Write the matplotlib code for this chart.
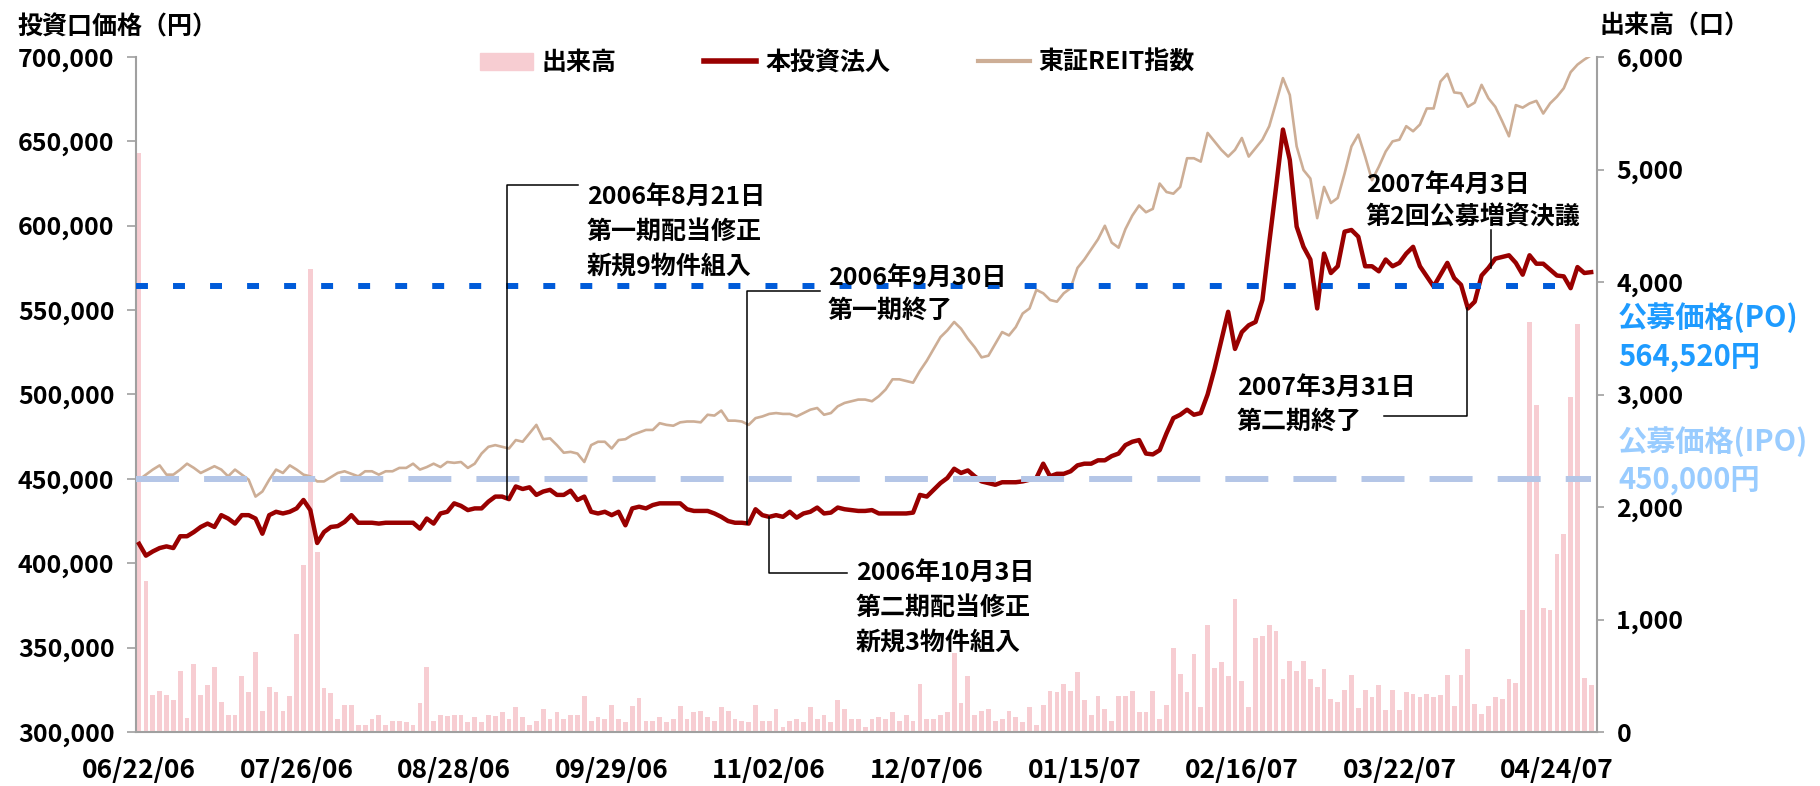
import numpy as np
import matplotlib.pyplot as plt
from matplotlib.patches import Patch
from matplotlib.lines import Line2D
from matplotlib.ticker import FuncFormatter

plt.rcParams['font.family'] = ['Noto Sans CJK JP', 'DejaVu Sans']

# x軸ラベル(23営業日ごと)
tick_labels = ['06/22/06', '07/26/06', '08/28/06', '09/29/06', '11/02/06',
               '12/07/06', '01/15/07', '02/16/07', '03/22/07', '04/24/07']

# 本投資法人 投資口価格(円)
price = [
    411500, 404500, 407000, 409000, 410000, 409000, 416000, 416000, 418500, 421500,
    423500, 421500, 428500, 426500, 423500, 428500, 428500, 426500, 417500, 428500,
    430500, 429500, 430500, 432500, 437500, 431500, 412000, 418500, 421500, 422000,
    424500, 428500, 424000, 424000, 424000, 423500, 424000, 424000, 424000, 424000,
    424000, 420500, 426500, 423500, 429500, 430500, 435500, 434000, 431500, 432500,
    432500, 436500, 439500, 439500, 438000, 445500, 444000, 445000, 440500, 442500,
    443500, 440500, 440500, 443000, 437500, 439500, 430500, 429500, 430500, 428500,
    430500, 422500, 432500, 433500, 432500, 434500, 435500, 435500, 435500, 435500,
    432000, 431000, 431000, 431000, 429500, 427500, 425000, 424000, 424000, 423500,
    432000, 428500, 427500, 428500, 427500, 430500, 427000, 429500, 430500, 433000,
    429500, 430000, 433000, 432000, 431500, 431000, 431000, 431500, 429500, 429500,
    429500, 429500, 429500, 430000, 440500, 439500, 443500, 447500, 450500, 456000,
    453500, 455000, 451500, 448500, 447500, 446500, 448000, 448000, 448000, 448500,
    449500, 450500, 459000, 451500, 453000, 453000, 454500, 458000, 459000, 459000,
    461000, 461000, 463500, 465000, 470000, 472000, 473000, 465000, 464500, 467000,
    477000, 486000, 488000, 491000, 488000, 489000, 500000, 515000, 532000, 549000,
    527000, 537000, 541000, 543000, 556000, 590000, 623000, 657000, 639000, 599500,
    587500, 580000, 551000, 583500, 572000, 576000, 596500, 597500, 593500, 576000,
    576000, 573000, 580000, 576000, 578000, 583500, 587500, 576000, 570000, 564000,
    571000, 578000, 569000, 565000, 551000, 555000, 570500, 575000, 580500, 581500,
    582500, 578000, 571000, 582500, 577500, 577500, 574000, 570500, 570000, 563000,
    575500, 572000, 572500,
]

# 東証REIT指数(投資口価格軸に換算)
reit = [
    449500, 452500, 455500, 458000, 452500, 452500, 455500, 459000, 456500, 453500,
    455500, 457500, 455500, 451500, 455500, 452500, 449500, 439500, 442500, 449500,
    455500, 453500, 458000, 455500, 452500, 451500, 448500, 448500, 451000, 453500,
    454500, 453000, 451500, 454500, 454500, 452500, 454500, 454500, 456500, 456500,
    459000, 455500, 457000, 459000, 457000, 460000, 459500, 460000, 456500, 459000,
    465000, 469000, 470000, 469000, 468000, 473000, 472000, 477000, 482000, 473500,
    474000, 470000, 465500, 466000, 465000, 460000, 470000, 472000, 472000, 468000,
    473000, 473500, 476000, 477500, 479000, 479000, 483000, 482000, 481500, 483500,
    484000, 484000, 483500, 488000, 487500, 490500, 484500, 484500, 484000, 482000,
    486000, 487000, 488500, 489000, 488500, 488500, 487000, 489000, 491000, 492000,
    488000, 489000, 493000, 495000, 496000, 497000, 497000, 496000, 499000, 503000,
    509000, 509000, 508000, 507000, 514000, 520000, 527000, 534000, 538000, 543000,
    539000, 533000, 528000, 522000, 523000, 530000, 537000, 535000, 540000, 548000,
    551000, 562000, 560000, 556000, 555000, 560000, 563000, 575000, 580000, 586000,
    592000, 600000, 590000, 587000, 598000, 606000, 612000, 608000, 610000, 625000,
    620000, 619000, 623000, 640000, 640000, 638000, 655000, 650000, 645000, 641000,
    645000, 652000, 641000, 646000, 651000, 659000, 673000, 687500, 677500, 647000,
    633000, 628000, 604500, 623000, 613500, 616500, 631000, 647000, 654000, 641000,
    627000, 635000, 644000, 650000, 651000, 659000, 656000, 660000, 669500, 669500,
    685500, 690000, 679000, 678500, 670500, 673000, 683500, 675500, 670500, 662000,
    653000, 671500, 670000, 672500, 674000, 666500, 672500, 676500, 681500, 691000,
    695500, 698500, 701000,
]

# 出来高(口)
volume = [
    5150, 1345, 332, 367, 332, 287, 539, 124, 607, 332,
    415, 575, 264, 154, 154, 500, 353, 714, 190, 397,
    353, 184, 323, 874, 1487, 4116, 1600, 391, 347, 119,
    243, 243, 65, 65, 116, 154, 65, 101, 101, 86,
    65, 258, 575, 101, 154, 139, 154, 154, 86, 133,
    86, 154, 139, 178, 119, 225, 133, 65, 101, 204,
    119, 178, 119, 154, 154, 323, 101, 133, 119, 243,
    119, 86, 228, 302, 101, 101, 133, 86, 119, 228,
    119, 178, 184, 133, 101, 222, 184, 116, 101, 86,
    243, 101, 101, 204, 44, 101, 116, 86, 222, 116,
    154, 86, 287, 204, 116, 116, 44, 116, 133, 116,
    178, 101, 154, 101, 430, 116, 116, 154, 178, 702,
    258, 500, 154, 184, 204, 101, 116, 190, 133, 86,
    222, 65, 243, 367, 353, 427, 367, 533, 287, 154,
    323, 204, 101, 323, 323, 367, 178, 178, 367, 119,
    243, 747, 519, 353, 696, 222, 954, 572, 622, 500,
    1182, 450, 222, 836, 850, 954, 895, 474, 628, 539,
    628, 474, 397, 557, 290, 264, 370, 504, 210, 370,
    308, 415, 193, 370, 193, 353, 335, 308, 335, 308,
    326, 504, 228, 504, 735, 246, 157, 228, 308, 290,
    468, 433, 1081, 3647, 2907, 1099, 1081, 1579, 1757, 2981,
    3627, 477, 415,
]

po_price = 564520
ipo_price = 450000

RED = '#990000'
TAN = '#CDAE96'
PINK = '#F7CDD2'
GRAY = '#A0A0A0'

W, H = 1820, 786
fig = plt.figure(figsize=(W / 100, H / 100), dpi=100)
ax = fig.add_axes([136 / W, 1 - 732 / H, 1461 / W, 675 / H])
ax2 = ax.twinx()

x = np.arange(len(price))
ax2.bar(x, volume, width=0.7, color=PINK, linewidth=0)
ax.set_zorder(ax2.get_zorder() + 1)
ax.patch.set_visible(False)

ax.plot(x, reit, color=TAN, lw=1.9, zorder=3)
ax.plot(x, price, color=RED, lw=3.2, zorder=4)
ax.hlines(ipo_price, -0.45, x[-1], colors='#B4C6E7', lw=4.3, linestyles=(0, (7.2, 4.2)), zorder=5)
ax.hlines(po_price, -0.45, x[-1] - 2, colors='#005BD9', lw=4.3, linestyles=(0, (2.0, 4.2)), zorder=5)

ax.set_xlim(-0.45, 212.85)
ax.set_ylim(300000, 700000)
ax2.set_ylim(0, 6000)
ax.set_yticks(range(300000, 700001, 50000))
ax2.set_yticks(range(0, 6001, 1000))
fmt = FuncFormatter(lambda v, p: f'{int(v):,}')
ax.yaxis.set_major_formatter(fmt)
ax2.yaxis.set_major_formatter(fmt)
ax.set_xticks(range(0, len(price), 23))
ax.set_xticklabels(tick_labels)

for a in (ax, ax2):
    for s in a.spines.values():
        s.set_visible(False)
ax.spines['left'].set_visible(True)
ax.spines['bottom'].set_visible(True)
ax2.spines['right'].set_visible(True)
for s in (ax.spines['left'], ax.spines['bottom'], ax2.spines['right']):
    s.set_color(GRAY)
    s.set_linewidth(1.5)

ax.tick_params(axis='y', length=6.5, width=1.2, color=GRAY, pad=9, labelsize=18)
ax2.tick_params(axis='y', length=5, width=1.2, color=GRAY, pad=9, labelsize=18)
ax.tick_params(axis='x', length=0, pad=18, labelsize=19)
for lab in ax.get_xticklabels() + ax.get_yticklabels() + ax2.get_yticklabels():
    lab.set_fontweight('bold')

# 注記の引出線
def leader(pts):
    xs, ys = zip(*pts)
    ax.plot(xs, ys, color='black', lw=1.1, zorder=6)

leader([(53.7, price[54]), (53.7, 624100), (64.1, 624100)])
leader([(88.8, price[89]), (88.8, 561300), (99.4, 561300)])
leader([(91.9, price[92]), (91.9, 394400), (103.3, 394400)])
leader([(193.9, price[194]), (193.9, 487400), (181.8, 487400)])
leader([(197.4, price[197]), (197.4, 597500)])

def ftext(px, py, s, **kw):
    kw.setdefault('fontsize', 18)
    kw.setdefault('fontweight', 'bold')
    kw.setdefault('va', 'center')
    fig.text(px / W, 1 - py / H, s, **kw)

for px, lines in [((587, 197, 232, 266), ['2006年8月21日', '第一期配当修正', '新規9物件組入']),
                  ((828, 278, 311), ['2006年9月30日', '第一期終了']),
                  ((856, 573, 608, 642), ['2006年10月3日', '第二期配当修正', '新規3物件組入']),
                  ((1237, 388, 422), ['2007年3月31日', '第二期終了']),
                  ((1366, 185, 218), ['2007年4月3日', '第2回公募増資決議'])]:
    for py, s in zip(px[1:], lines):
        ftext(px[0], py, s)

ftext(17, 27, '投資口価格（円）')
ftext(1599, 27, '出来高（口）')
ftext(1618, 318, '公募価格(PO)', color='#1E9BFF', fontsize=21)
ftext(1618, 357, '564,520円', color='#1E9BFF', fontsize=21)
ftext(1618, 442, '公募価格(IPO)', color='#99CCFF', fontsize=21)
ftext(1618, 480, '450,000円', color='#99CCFF', fontsize=21)

handles = [Patch(color=PINK), Line2D([], [], color=RED, lw=4), Line2D([], [], color=TAN, lw=3)]
fig.legend(handles, ['出来高', '本投資法人', '東証REIT指数'], ncol=3, loc='center left',
           bbox_to_anchor=(480 / W, 1 - 63 / H), frameon=False, borderpad=0, borderaxespad=0,
           handlelength=2.1, handletextpad=0.35, columnspacing=3.5,
           prop={'size': 18, 'weight': 'bold'})

fig.savefig('out.png', dpi=100)
